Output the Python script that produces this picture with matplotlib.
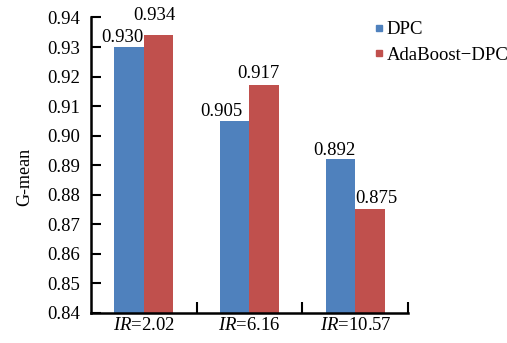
import matplotlib
matplotlib.use("Agg")
import matplotlib.pyplot as plt
from matplotlib.lines import Line2D
import numpy as np

categories = [r"$\mathit{IR}$=2.02", r"$\mathit{IR}$=6.16", r"$\mathit{IR}$=10.57"]
series_names = ["DPC", "AdaBoost\u2212DPC"]
dpc = [0.930, 0.905, 0.892]
ada = [0.934, 0.917, 0.875]
yticks = [0.84, 0.85, 0.86, 0.87, 0.88, 0.89, 0.90, 0.91, 0.92, 0.93, 0.94]

# label placement offsets (pixels) relative to bar top-centre, as in the reference
dpc_off = [(-7, 5), (-13, 5), (-6, 4)]
ada_off = [(-4, 15), (-6, 7), (6, 6)]

plt.rcParams['font.family'] = ['Liberation Serif', 'DejaVu Serif']
plt.rcParams['mathtext.fontset'] = 'custom'
plt.rcParams['mathtext.rm'] = 'Liberation Serif'
plt.rcParams['mathtext.it'] = 'Liberation Serif:italic'

blue = '#4F81BD'
red = '#C0504D'
fs = 13.5

fig = plt.figure(figsize=(5.07, 3.43), dpi=100)
ax = fig.add_axes([0.1795, 0.0883, 0.6252, 0.8607])

x = np.arange(len(categories))
w = 0.28
b1 = ax.bar(x - w/2, dpc, w, color=blue, label=series_names[0])
b2 = ax.bar(x + w/2, ada, w, color=red, label=series_names[1])

for bars, vals, offs in ((b1, dpc, dpc_off), (b2, ada, ada_off)):
    for r, v, (dx, dy) in zip(bars, vals, offs):
        ax.annotate(f"{v:.3f}", (r.get_x() + r.get_width()/2, v),
                    xytext=(dx * 0.72, dy * 0.72),
                    textcoords='offset points', ha='center', va='baseline', fontsize=fs)

ax.set_ylim(0.84, 0.94)
ax.set_xlim(-0.5, 2.5)
ax.set_yticks(yticks)
ax.set_yticklabels([f"{t:.2f}" for t in yticks], fontsize=fs)
ax.set_xticks(x)
ax.set_xticklabels(categories, fontsize=fs)
ax.set_xticks([0.5, 1.5, 2.5], minor=True)
ax.tick_params(axis='x', which='major', length=0, pad=3)
ax.tick_params(axis='x', which='minor', direction='in', length=8, width=1.5)
ax.tick_params(axis='y', direction='in', length=7, width=1.5, pad=8)
for s in ('top', 'right'):
    ax.spines[s].set_visible(False)
for s in ('left', 'bottom'):
    ax.spines[s].set_linewidth(1.8)

ax.set_ylabel("G-mean", fontsize=13)
ax.yaxis.set_label_coords(-0.183, 0.46)

handles = [Line2D([], [], marker='s', ls='none', color=blue, ms=4),
           Line2D([], [], marker='s', ls='none', color=red, ms=4)]
fig.legend(handles, series_names, loc='upper left', bbox_to_anchor=(0.725, 0.96),
           frameon=False, fontsize=fs, handlelength=0.4, handletextpad=0.2,
           labelspacing=0.45, borderaxespad=0)

fig.savefig("out.png", dpi=100)
